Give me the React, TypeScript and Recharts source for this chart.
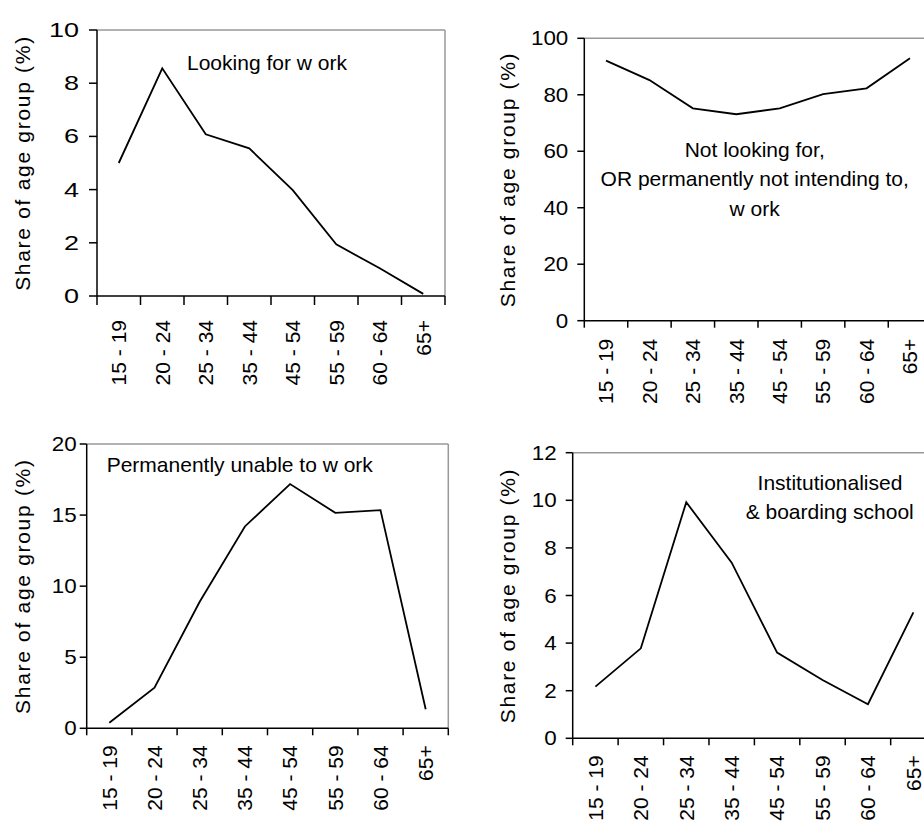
import React from 'react';
import { LineChart, Line, XAxis, YAxis, ReferenceLine } from 'recharts';

const ageGroups = ['15 - 19', '20 - 24', '25 - 34', '35 - 44', '45 - 54', '55 - 59', '60 - 64', '65+'];
const lookingForWork = [5.0, 8.56, 6.08, 5.55, 3.98, 1.94, 1.04, 0.08];
const notLookingForWork = [92.1, 85.2, 75.2, 73.1, 75.2, 80.2, 82.3, 92.9];
const unableToWork = [0.39, 2.86, 8.9, 14.2, 17.18, 15.16, 15.35, 1.34];
const institutionalised = [2.17, 3.78, 9.92, 7.38, 3.6, 2.45, 1.43, 5.29];

const ticksLooking = [0, 2, 4, 6, 8, 10];
const ticksNotLooking = [0, 20, 40, 60, 80, 100];
const ticksUnable = [0, 5, 10, 15, 20];
const ticksInstitutional = [0, 2, 4, 6, 8, 10, 12];

const yAxisTitle = 'Share of age group  (%)';

const FONT = '"Liberation Sans", Arial, sans-serif';

type PanelProps = {
  values: number[];
  yTicks: number[];
  left: number;
  top: number;
  yAxisW: number;
  plotTop: number;
  plotW: number;
  plotH: number;
  xTickSize: number;
  xLabelGap: number;
  yTickSize: number;
  yTickMargin: number;
  yTickScale: number;
  yLabelX: number;
};

const AgeTick = (props: any) => {
  const { x, y, payload } = props;
  const label = ageGroups[Math.floor(payload.value)];
  return (
    <text
      x={x}
      y={y}
      transform={`rotate(-90 ${x} ${y})`}
      textAnchor="end"
      dy="0.35em"
      fontSize={21}
      fontFamily={FONT}
      fill="#000"
    >
      {label}
    </text>
  );
};

const makeYTick = (sx: number) => (props: any) => {
  const { x, y, payload } = props;
  return (
    <text
      transform={`translate(${x} ${y}) scale(${sx} 1)`}
      x={0}
      y={0}
      textAnchor="end"
      dy="0.35em"
      fontSize={20}
      fontFamily={FONT}
      fill="#000"
    >
      {payload.value}
    </text>
  );
};

function Panel(p: PanelProps) {
  const n = ageGroups.length;
  const data = ageGroups.map((age, i) => ({ age, pos: i + 0.5, v: p.values[i] }));
  const bounds = [...ageGroups.map((_, i) => i), n];
  const centers = ageGroups.map((_, i) => i + 0.5);
  const yMax = p.yTicks[p.yTicks.length - 1];
  const marginRight = 20;
  const width = p.yAxisW + p.plotW + marginRight;
  const height = p.plotTop + p.plotH + 1 + 110;
  const labelY = p.plotTop + p.plotH / 2;
  return (
    <div style={{ position: 'absolute', left: p.left, top: p.top }}>
      <LineChart
        width={width}
        height={height}
        data={data}
        margin={{ top: p.plotTop, right: marginRight, bottom: 0, left: 0 }}
      >
        <XAxis
          xAxisId="b"
          type="number"
          dataKey="pos"
          domain={[0, n]}
          ticks={bounds}
          interval={0}
          tick={() => <g />}
          tickSize={p.xTickSize}
          height={1}
          axisLine={{ stroke: '#000', strokeWidth: 1.5 }}
          tickLine={{ stroke: '#000', strokeWidth: 1.5 }}
        />
        <XAxis
          xAxisId="l"
          type="number"
          dataKey="pos"
          domain={[0, n]}
          ticks={centers}
          interval={0}
          tick={<AgeTick />}
          axisLine={false}
          tickLine={false}
          tickSize={0}
          tickMargin={p.xLabelGap}
          height={110}
        />
        <YAxis
          type="number"
          domain={[0, yMax]}
          ticks={p.yTicks}
          interval={0}
          width={p.yAxisW}
          tickSize={p.yTickSize}
          tickMargin={p.yTickMargin}
          axisLine={{ stroke: '#000', strokeWidth: 1.5 }}
          tickLine={{ stroke: '#000', strokeWidth: 1.5 }}
          tick={makeYTick(p.yTickScale)}
          label={() => (
            <text
              x={p.yLabelX}
              y={labelY}
              transform={`rotate(-90 ${p.yLabelX} ${labelY})`}
              textAnchor="middle"
              dy="0.35em"
              fontSize={21}
              letterSpacing={1.7}
              fontFamily={FONT}
              fill="#000"
            >
              {yAxisTitle}
            </text>
          )}
        />
        <ReferenceLine xAxisId="b" y={yMax} stroke="#999" strokeWidth={1.5} />
        <ReferenceLine xAxisId="b" x={n} stroke="#999" strokeWidth={1.5} />
        <Line
          xAxisId="b"
          type="linear"
          dataKey="v"
          stroke="#000"
          strokeWidth={1.8}
          dot={false}
          activeDot={false}
          isAnimationActive={false}
        />
      </LineChart>
    </div>
  );
}

const textStyle = { fontSize: 21, fontFamily: FONT, fill: '#000' } as const;

export default function App() {
  return (
    <div
      style={{
        position: 'absolute',
        left: 0,
        top: 0,
        width: 924,
        height: 821,
        overflow: 'hidden',
        background: '#fff',
      }}
    >
      <Panel
        values={lookingForWork}
        yTicks={ticksLooking}
        left={0}
        top={0}
        yAxisW={97}
        plotTop={30}
        plotW={348}
        plotH={266}
        xTickSize={9}
        xLabelGap={23}
        yTickSize={8}
        yTickMargin={10}
        yTickScale={1.35}
        yLabelX={23}
      />
      <Panel
        values={notLookingForWork}
        yTicks={ticksNotLooking}
        left={460}
        top={0}
        yAxisW={124.3}
        plotTop={38.3}
        plotW={347.4}
        plotH={282.4}
        xTickSize={7}
        xLabelGap={17}
        yTickSize={7}
        yTickMargin={9}
        yTickScale={1.12}
        yLabelX={48}
      />
      <Panel
        values={unableToWork}
        yTicks={ticksUnable}
        left={0}
        top={420}
        yAxisW={86.7}
        plotTop={24}
        plotW={361.6}
        plotH={284.3}
        xTickSize={7}
        xLabelGap={16}
        yTickSize={7}
        yTickMargin={3}
        yTickScale={1.12}
        yLabelX={23}
      />
      <Panel
        values={institutionalised}
        yTicks={ticksInstitutional}
        left={460}
        top={420}
        yAxisW={112.7}
        plotTop={32.7}
        plotW={363.4}
        plotH={285.6}
        xTickSize={7}
        xLabelGap={16}
        yTickSize={7}
        yTickMargin={9}
        yTickScale={1.12}
        yLabelX={48}
      />
      <svg
        width={924}
        height={821}
        style={{ position: 'absolute', left: 0, top: 0, pointerEvents: 'none' }}
      >
        <text x={187} y={70} textAnchor="start" {...textStyle}>Looking for w ork</text>
        <text x={754.7} y={156.7} textAnchor="middle" {...textStyle}>Not looking for,</text>
        <text x={754.7} y={186.3} textAnchor="middle" {...textStyle}>OR permanently not intending to,</text>
        <text x={754.7} y={216} textAnchor="middle" {...textStyle}>w ork</text>
        <text x={106.7} y={472.3} textAnchor="start" {...textStyle}>Permanently unable to w ork</text>
        <text x={830} y={490} textAnchor="middle" {...textStyle}>Institutionalised</text>
        <text x={829.7} y={519.3} textAnchor="middle" {...textStyle}>&amp; boarding school</text>
      </svg>
    </div>
  );
}
